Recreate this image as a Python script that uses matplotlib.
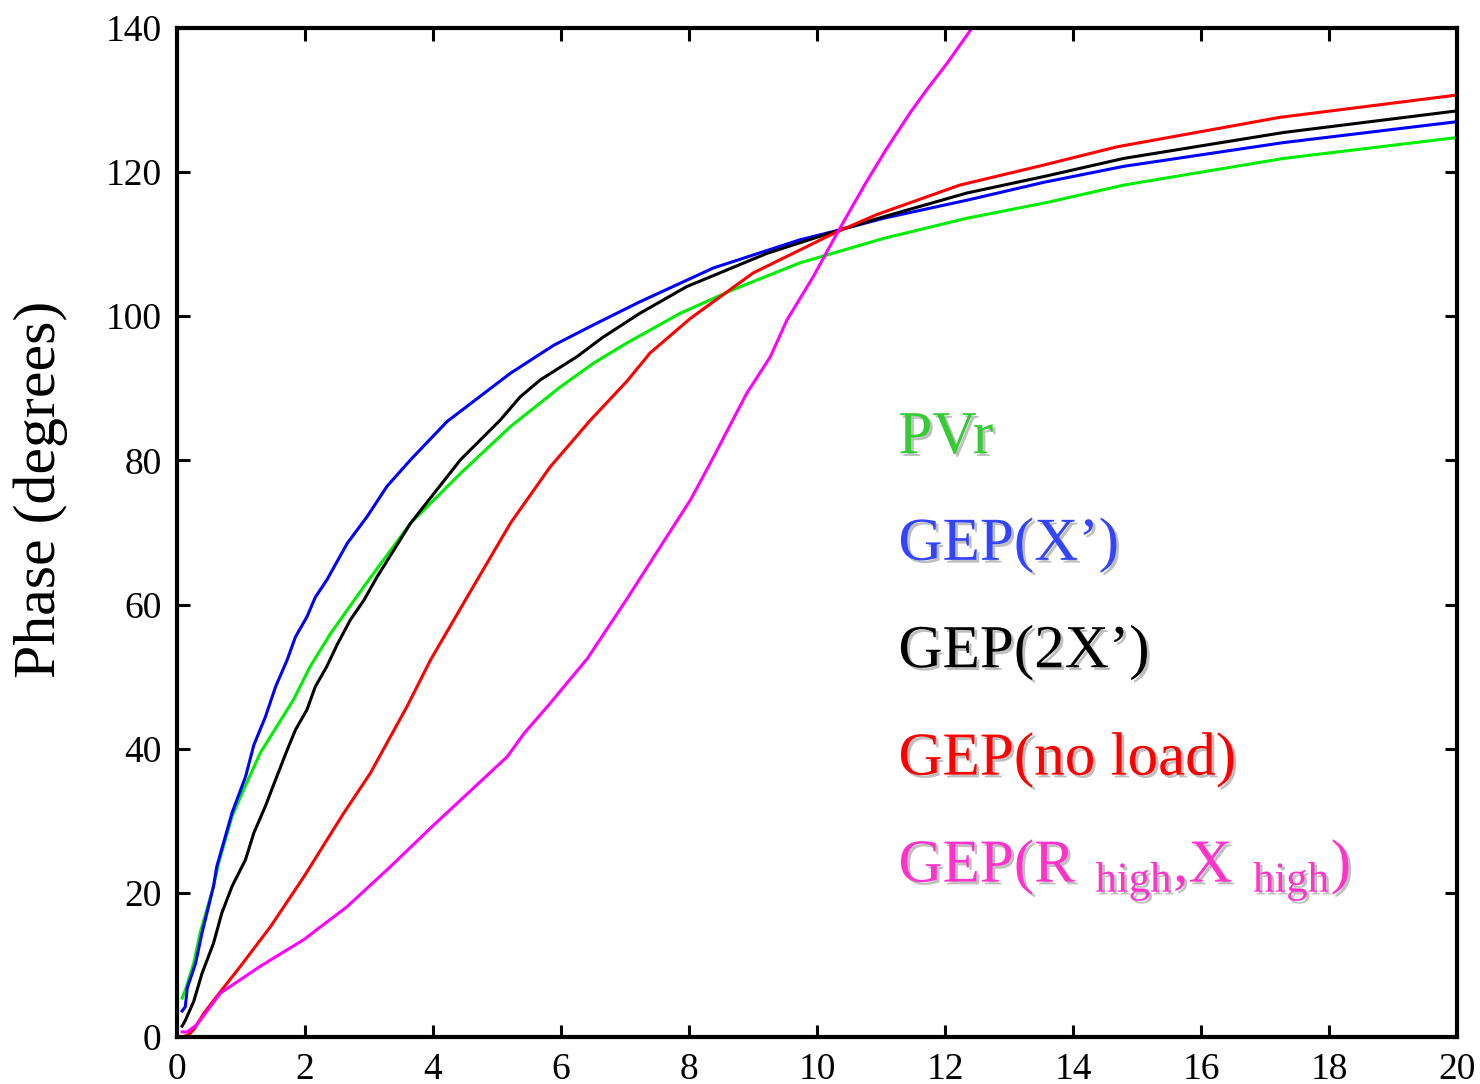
import matplotlib
matplotlib.use('Agg')
import matplotlib.pyplot as plt
import matplotlib.patheffects as pe

plt.rcParams['font.family'] = ['Liberation Serif', 'DejaVu Serif']
plt.rcParams['mathtext.fontset'] = 'custom'
plt.rcParams['mathtext.rm'] = 'Liberation Serif'

# PVr (green)
pvr_x = [0.08, 0.13, 0.26, 0.36, 0.57, 0.65, 0.86, 1.04, 1.3, 1.56, 1.82, 2.08,
         2.4, 2.92, 3.65, 4.43, 5.21, 5.99, 6.51, 7.03, 7.86, 8.69, 9.73,
         11.04, 12.34, 13.6, 14.79, 17.29, 20.0]
pvr_y = [5.4, 6.5, 10.2, 14.4, 20.9, 24.1, 30.6, 34.3, 39.4, 43.1, 46.8, 51.4,
         56.0, 62.5, 71.3, 78.2, 84.7, 90.2, 93.5, 96.3, 100.4, 103.7, 107.4,
         110.8, 113.6, 115.8, 118.2, 121.9, 124.8]

# GEP(X') (blue)
gx_x = [0.08, 0.13, 0.16, 0.29, 0.39, 0.57, 0.62, 0.86, 1.07, 1.2, 1.38, 1.54,
        1.72, 1.85, 2.03, 2.16, 2.34, 2.66, 2.97, 3.28, 3.65, 4.22, 5.21,
        5.89, 6.55, 7.23, 8.38, 9.73, 10.36, 11.04, 12.34, 13.55, 14.79,
        17.29, 20.0]
gx_y = [3.6, 4.2, 6.8, 10.2, 14.4, 20.9, 23.6, 31.1, 36.1, 40.5, 44.4, 48.6,
        52.3, 55.5, 58.3, 61.0, 63.4, 68.5, 72.2, 76.4, 80.1, 85.4, 92.1,
        96.0, 99.0, 102.0, 106.7, 110.6, 112.0, 113.6, 116.1, 118.6, 120.8,
        124.1, 127.0]

# GEP(2X') (black)
g2x_x = [0.08, 0.13, 0.26, 0.39, 0.57, 0.7, 0.86, 1.07, 1.2, 1.38, 1.54, 1.72,
         1.85, 2.03, 2.16, 2.34, 2.5, 2.71, 2.92, 3.13, 3.65, 4.43, 5.05,
         5.36, 5.68, 6.25, 6.64, 7.23, 7.96, 9.21, 10.36, 11.04, 12.34, 13.55,
         14.79, 17.29, 20.0]
g2x_y = [1.5, 2.3, 4.9, 8.8, 13.0, 17.2, 20.9, 24.6, 28.3, 32.0, 35.7, 39.8,
         42.6, 45.4, 48.6, 51.4, 54.4, 57.9, 60.6, 63.9, 71.3, 80.1, 85.6,
         88.8, 91.2, 94.4, 97.0, 100.4, 104.1, 108.7, 112.0, 113.8, 117.1,
         119.4, 121.9, 125.5, 128.5]

# GEP(no load) (red)
gnl_x = [0.08, 0.18, 0.26, 0.42, 0.68, 0.99, 1.46, 1.98, 2.6, 3.02, 3.59, 3.96,
         4.53, 5.21, 5.83, 6.46, 7.03, 7.39, 8.02, 9.0, 10.26, 10.93, 12.23,
         13.55, 14.68, 17.23, 20.0]
gnl_y = [0.0, 0.3, 1.0, 3.3, 6.3, 9.8, 15.3, 22.2, 31.0, 36.6, 45.8, 52.3,
         61.0, 71.3, 79.1, 85.6, 91.0, 94.9, 99.7, 106.0, 111.5, 114.1, 118.2,
         121.0, 123.5, 127.6, 130.7]

# GEP(R high, X high) (magenta)
grx_x = [0.08, 0.16, 0.31, 0.68, 1.3, 1.98, 2.66, 3.33, 4.01, 5.16, 5.42, 5.83,
         6.41, 7.03, 7.65, 8.02, 8.33, 8.9, 9.27, 9.53, 9.94, 10.31, 10.78,
         11.09, 11.45, 11.71, 12.03, 12.42]
grx_y = [0.7, 0.7, 1.7, 6.1, 9.8, 13.5, 18.1, 23.6, 29.4, 38.9, 42.1, 46.3,
         52.5, 60.8, 69.4, 74.5, 79.6, 89.3, 94.4, 99.5, 105.5, 111.5, 118.8,
         123.3, 128.2, 131.4, 135.1, 140.0]

labels = ['PVr', "GEP(X\u2019)", "GEP(2X\u2019)", 'GEP(no load)',
          r'GEP(R$\ _{\rm high}$,X$\ _{\rm high}$)']
label_y = [81.0, 66.2, 51.3, 36.4, 21.5]
text_colors = ['#33cc33', '#3344ff', 'black', '#ff0000', '#ff33cc']

fig = plt.figure(figsize=(14.8, 10.84), dpi=100)
ax = fig.add_axes([0.1196, 0.0434, 0.865, 0.9308])

ax.plot(pvr_x, pvr_y, color='#00ee00', lw=2.2)
ax.plot(gx_x, gx_y, color='#0000ff', lw=2.2)
ax.plot(g2x_x, g2x_y, color='black', lw=2.2)
ax.plot(gnl_x, gnl_y, color='#ff0000', lw=2.2)
ax.plot(grx_x, grx_y, color='#ff00ff', lw=2.2)

ax.set_xlim(0, 20)
ax.set_ylim(0, 140)
ax.set_xticks(range(0, 21, 2))
ax.set_yticks(range(0, 141, 20))
ax.tick_params(direction='in', length=9, width=2.2, top=True, right=True,
               labelsize=27, pad=11)
for s in ax.spines.values():
    s.set_linewidth(3)

ax.set_ylabel('Phase (degrees)', fontsize=43)
ax.yaxis.set_label_coords(-0.085, 0.543)

shadow = [pe.SimplePatchShadow(offset=(2, -2), shadow_rgbFace='0.75', alpha=1),
          pe.Normal()]
for lab, yy, c in zip(labels, label_y, text_colors):
    ax.text(11.27, yy, lab, color=c, fontsize=44, ha='left', va='baseline',
            path_effects=shadow)

fig.savefig('out.png', dpi=100)
